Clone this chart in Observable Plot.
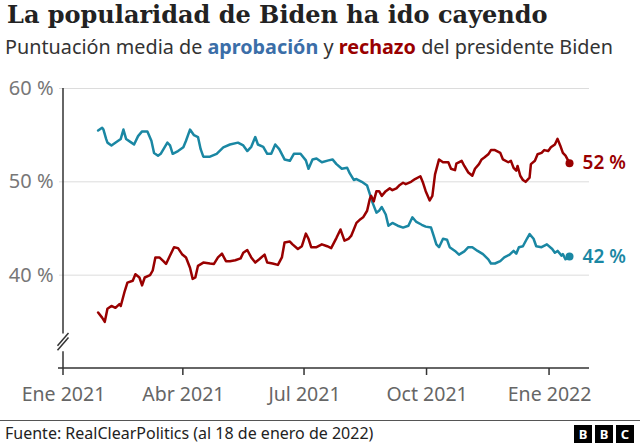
<!DOCTYPE html>
<html>
<head>
<meta charset="utf-8">
<script src="https://cdn.jsdelivr.net/npm/d3@7"></script>
<script src="https://cdn.jsdelivr.net/npm/@observablehq/plot@0.6"></script>
<style>
  html, body { margin: 0; padding: 0; background: #fff; }
  body { width: 640px; height: 444px; overflow: hidden; position: relative; font-family: "Noto Sans", sans-serif; }
  #title { position: absolute; left: 7px; top: 0px; font-family: "DejaVu Serif", serif; font-weight: bold; font-size: 24px; line-height: 30px; color: #222; white-space: nowrap; }
  #subtitle { position: absolute; left: 5px; top: 33px; font-size: 19.8px; line-height: 28px; color: #333; white-space: nowrap; }
  #subtitle .a { color: #3b6ea8; font-weight: bold; }
  #subtitle .r { color: #990000; font-weight: bold; }
  #chart { position: absolute; left: 0; top: 66px; }
  #footer { position: absolute; left: 0; top: 420px; width: 640px; height: 24px; border-top: 1px solid #555; }
  #source { position: absolute; left: 5px; top: 1px; font-size: 16px; line-height: 22px; color: #222; white-space: nowrap; }
  #bbc { position: absolute; right: 6px; top: 4px; display: flex; gap: 3px; }
  #bbc span { width: 18px; height: 18px; background: #000; color: #fff; font-weight: bold; font-size: 13px; line-height: 18px; text-align: center; font-family: "Noto Sans", sans-serif; }
</style>
</head>
<body>
<div id="title">La popularidad de Biden ha ido cayendo</div>
<div id="subtitle">Puntuación media de <span class="a">aprobación</span> y <span class="r">rechazo</span> del presidente Biden</div>
<div id="chart"></div>
<div id="footer">
  <div id="source">Fuente: RealClearPolitics (al 18 de enero de 2022)</div>
  <div id="bbc"><span>B</span><span>B</span><span>C</span></div>
</div>
<script>
// ---- Data ----
const approveDates = ["2021-01-27","2021-01-30","2021-01-31","2021-02-02","2021-02-03","2021-02-06","2021-02-10","2021-02-13","2021-02-15","2021-02-17","2021-02-21","2021-02-23","2021-02-26","2021-03-01","2021-03-05","2021-03-08","2021-03-10","2021-03-13","2021-03-15","2021-03-20","2021-03-22","2021-03-24","2021-03-28","2021-04-01","2021-04-03","2021-04-06","2021-04-09","2021-04-12","2021-04-14","2021-04-16","2021-04-21","2021-04-26","2021-05-01","2021-05-06","2021-05-12","2021-05-16","2021-05-19","2021-05-22","2021-05-25","2021-05-27","2021-05-31","2021-06-03","2021-06-06","2021-06-09","2021-06-12","2021-06-16","2021-06-20","2021-06-23","2021-06-28","2021-07-02","2021-07-04","2021-07-07","2021-07-10","2021-07-14","2021-07-19","2021-07-22","2021-07-25","2021-07-29","2021-08-02","2021-08-04","2021-08-07","2021-08-09","2021-08-13","2021-08-17","2021-08-19","2021-08-21","2021-08-24","2021-08-26","2021-08-28","2021-08-31","2021-09-02","2021-09-05","2021-09-09","2021-09-13","2021-09-17","2021-09-20","2021-09-23","2021-09-27","2021-09-30","2021-10-04","2021-10-06","2021-10-08","2021-10-10","2021-10-13","2021-10-16","2021-10-18","2021-10-22","2021-10-25","2021-10-29","2021-11-01","2021-11-04","2021-11-08","2021-11-12","2021-11-16","2021-11-18","2021-11-21","2021-11-25","2021-11-28","2021-12-02","2021-12-05","2021-12-07","2021-12-09","2021-12-12","2021-12-15","2021-12-17","2021-12-20","2021-12-22","2021-12-26","2021-12-30","2022-01-03","2022-01-05","2022-01-07","2022-01-10","2022-01-11","2022-01-13","2022-01-16"];
const approveValues = [55.5,55.8,55.6,54.6,54.2,53.9,54.3,54.6,55.6,54.6,54.2,54.0,54.9,55.4,55.4,54.4,53.1,52.8,53.0,54.2,53.9,53.0,53.3,53.7,54.4,55.6,55.0,54.8,53.5,52.7,52.7,53.0,53.7,54.0,54.2,53.9,53.3,53.75,54.8,54.0,53.75,53.0,53.0,54.0,53.5,52.4,52.25,53.0,53.0,52.3,51.4,52.4,52.5,52.1,52.3,52.4,51.9,51.4,51.5,50.9,50.2,50.3,50.0,49.6,48.7,47.8,46.7,46.9,47.3,46.5,45.3,45.6,45.3,45.1,45.3,46.2,45.7,45.4,45.2,45.1,44.2,43.3,43.0,43.9,43.8,43.0,42.6,42.2,42.55,43.0,43.0,42.6,42.25,41.7,41.25,41.25,41.5,41.9,42.2,42.6,42.3,43.0,43.1,43.9,44.4,43.9,43.1,43.0,43.3,42.8,42.4,42.6,42.1,42.25,41.7,42.0];

const rejectDates = ["2021-01-27","2021-01-30","2021-02-01","2021-02-03","2021-02-06","2021-02-09","2021-02-12","2021-02-13","2021-02-16","2021-02-18","2021-02-22","2021-02-24","2021-02-27","2021-03-01","2021-03-03","2021-03-07","2021-03-09","2021-03-11","2021-03-14","2021-03-17","2021-03-19","2021-03-22","2021-03-25","2021-03-28","2021-03-31","2021-04-03","2021-04-06","2021-04-08","2021-04-10","2021-04-12","2021-04-16","2021-04-21","2021-04-24","2021-04-27","2021-04-30","2021-05-03","2021-05-06","2021-05-10","2021-05-14","2021-05-16","2021-05-19","2021-05-22","2021-05-25","2021-05-28","2021-06-01","2021-06-03","2021-06-07","2021-06-11","2021-06-14","2021-06-16","2021-06-20","2021-06-22","2021-06-26","2021-06-29","2021-07-02","2021-07-04","2021-07-06","2021-07-10","2021-07-14","2021-07-18","2021-07-21","2021-07-25","2021-07-28","2021-07-31","2021-08-03","2021-08-05","2021-08-07","2021-08-09","2021-08-12","2021-08-14","2021-08-17","2021-08-19","2021-08-20","2021-08-22","2021-08-24","2021-08-26","2021-08-28","2021-08-31","2021-09-03","2021-09-05","2021-09-08","2021-09-10","2021-09-13","2021-09-15","2021-09-19","2021-09-22","2021-09-26","2021-09-28","2021-09-30","2021-10-03","2021-10-05","2021-10-07","2021-10-10","2021-10-13","2021-10-17","2021-10-19","2021-10-22","2021-10-23","2021-10-27","2021-10-29","2021-11-01","2021-11-04","2021-11-06","2021-11-09","2021-11-11","2021-11-13","2021-11-16","2021-11-18","2021-11-21","2021-11-25","2021-11-27","2021-12-01","2021-12-03","2021-12-05","2021-12-07","2021-12-08","2021-12-10","2021-12-12","2021-12-14","2021-12-17","2021-12-18","2021-12-21","2021-12-23","2021-12-26","2021-12-28","2021-12-31","2022-01-02","2022-01-05","2022-01-07","2022-01-09","2022-01-11","2022-01-13","2022-01-16"];
const rejectValues = [36.0,35.45,35.0,36.4,36.7,36.5,36.9,36.7,38.3,39.2,39.4,40.1,39.75,38.9,39.75,40.0,40.5,41.9,41.9,41.5,41.2,42.1,43.0,42.9,42.25,41.9,40.8,39.6,39.75,41.0,41.35,41.25,41.2,41.9,42.3,41.5,41.5,41.6,41.8,42.4,42.7,41.9,41.35,41.7,42.2,41.35,41.25,41.1,41.9,43.5,43.6,43.3,42.8,43.1,44.45,43.9,43.0,43.0,43.3,43.1,42.9,44.0,44.9,43.7,43.9,44.2,44.9,45.6,46.0,46.2,46.9,48.15,48.5,47.9,49.0,49.0,48.5,49.0,49.3,49.1,49.3,49.6,49.9,49.75,50.0,50.3,50.6,49.9,49.0,48.0,48.5,50.8,52.4,52.1,52.1,51.4,51.25,51.95,52.25,51.7,51.0,50.65,51.4,51.9,52.4,52.6,52.95,53.4,53.4,53.1,52.4,52.1,52.25,51.5,51.2,51.7,50.65,50.2,50.0,50.45,51.9,52.25,52.95,53.1,53.4,53.3,53.7,54.0,54.6,53.9,53.1,52.8,52.0];

const yTicks = [40, 50, 60];
const xTickDates = ["2021-01-01","2021-04-01","2021-07-01","2021-10-01","2022-01-01"];
const xTickLabels = ["Ene 2021","Abr 2021","Jul 2021","Oct 2021","Ene 2022"];
const xDomain = ["2021-01-01","2022-01-31"];
const yDomain = [30, 60];
const yBreak = [31.8, 33.7]; // gap in the y axis line

const approveColor = "#1a87a3";
const rejectColor = "#990000";

// ---- Build tables ----
const approve = approveDates.map((d, i) => ({date: new Date(d), value: approveValues[i]}));
const reject = rejectDates.map((d, i) => ({date: new Date(d), value: rejectValues[i]}));
const ends = [
  {...approve[approve.length - 1], color: approveColor},
  {...reject[reject.length - 1], color: rejectColor}
];
const tickLabelMap = new Map(xTickDates.map((d, i) => [+new Date(d), xTickLabels[i]]));
const xTicks = xTickDates.map(d => new Date(d));

// Axis frame (left axis with break, bottom axis, x ticks) drawn through the scales
function axisFrame(index, scales) {
  const x = scales.x, y = scales.y;
  const g = d3.create("svg:g").attr("stroke", "#333").attr("stroke-width", 1.5).attr("fill", "none");
  const x0 = x(new Date(xDomain[0]));
  const x1 = x(new Date(xDomain[1]));
  const yb = y(yDomain[0]);
  g.append("line").attr("x1", x0).attr("x2", x0).attr("y1", y(yDomain[1])).attr("y2", y(yBreak[1]));
  g.append("line").attr("x1", x0).attr("x2", x0).attr("y1", y(yBreak[0])).attr("y2", yb);
  const yTop = y(yBreak[1]), yBot = y(yBreak[0]);
  [0, 4.5].forEach(off => {
    g.append("line")
      .attr("x1", x0 - 5.5).attr("y1", yBot - 4.5 + off - 1)
      .attr("x2", x0 + 5.5).attr("y2", yTop + off - 0.5);
  });
  g.append("line").attr("x1", x0 - 5).attr("x2", x1).attr("y1", yb).attr("y2", yb);
  xTicks.forEach(t => {
    g.append("line").attr("x1", x(t)).attr("x2", x(t)).attr("y1", yb).attr("y2", yb + 7);
  });
  return g.node();
}

const chart = Plot.plot({
  width: 640,
  height: 345,
  marginTop: 22,
  marginBottom: 43,
  marginLeft: 63,
  marginRight: 51,
  style: {fontFamily: "'Noto Sans', sans-serif", background: "transparent", overflow: "visible"},
  x: {type: "utc", domain: xDomain.map(d => new Date(d)), label: null},
  y: {domain: yDomain, label: null},
  marks: [
    Plot.ruleY(yTicks, {stroke: "#dcdcdc", strokeWidth: 1, insetLeft: -4}),
    Plot.axisY({ticks: yTicks, tickSize: 0, tickPadding: 10, tickFormat: d => `${d} %`, fontSize: 20, fill: "#777", stroke: null, label: null}),
    Plot.axisX({ticks: xTicks, tickSize: 0, tickPadding: 19, tickFormat: d => tickLabelMap.get(+d), fontSize: 19.5, fill: "#666", stroke: null, label: null}),
    axisFrame,
    Plot.line(approve, {x: "date", y: "value", stroke: approveColor, strokeWidth: 2.5, strokeLinejoin: "round", strokeLinecap: "round"}),
    Plot.line(reject, {x: "date", y: "value", stroke: rejectColor, strokeWidth: 2.5, strokeLinejoin: "round", strokeLinecap: "round"}),
    Plot.dot(ends, {x: "date", y: "value", r: 4, fill: "color", stroke: null}),
    Plot.text(ends, {x: "date", y: "value", text: d => `${Math.round(d.value)} %`, fill: "color", dx: 13, textAnchor: "start", fontSize: 19, fontWeight: 600})
  ]
});
document.getElementById("chart").appendChild(chart);
</script>
</body>
</html>
